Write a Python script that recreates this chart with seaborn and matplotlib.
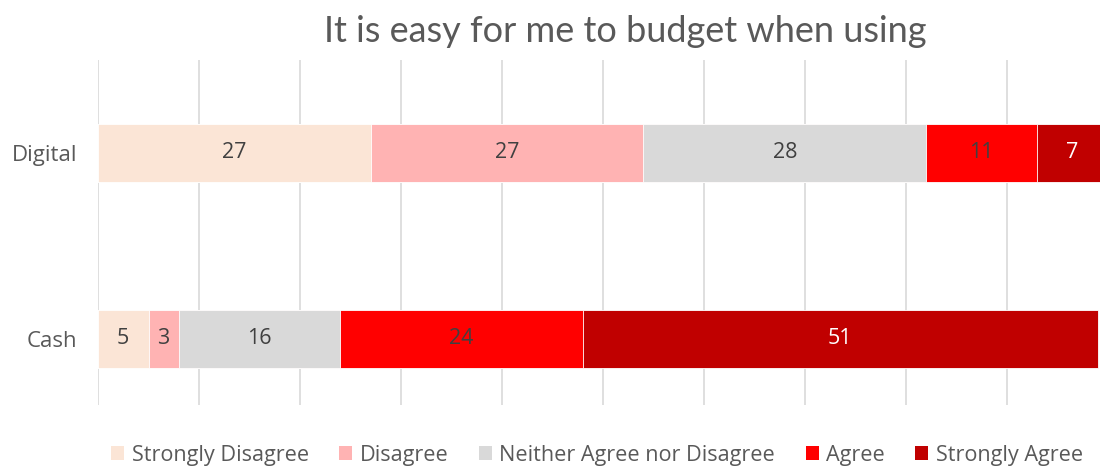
import matplotlib
matplotlib.use("Agg")
import matplotlib.pyplot as plt
import matplotlib.font_manager as fm
from matplotlib.patches import Patch
import numpy as np
import pandas as pd
import seaborn as sns

# Survey responses (percent of respondents)
categories = ["Digital", "Cash"]
responses = ["Strongly Disagree", "Disagree", "Neither Agree nor Disagree", "Agree", "Strongly Agree"]
strongly_disagree = [27, 5]
disagree = [27, 3]
neither = [28, 16]
agree = [11, 24]
strongly_agree = [7, 51]

colors = ["#FBE5D6", "#FFB3B3", "#D9D9D9", "#FF0000", "#C00000"]
label_colors = ["#404040", "#404040", "#404040", "#404040", "#FFFFFF"]

sns.set_theme(style="white")
names = {f.name for f in fm.fontManager.ttflist}
base = "Open Sans" if "Open Sans" in names else "DejaVu Sans"
title_font = "Lato" if "Lato" in names else base
plt.rcParams["font.family"] = [base, "DejaVu Sans"]

values = np.array([strongly_disagree, disagree, neither, agree, strongly_agree], dtype=float)
cum = values.cumsum(axis=0)
starts = cum - values

fig = plt.figure(figsize=(11, 4.66), dpi=100)
ax = fig.add_axes([98 / 1100, 1 - 405 / 466, 1010 / 1100, 345 / 466])

# Stacked bars: draw cumulative totals from the outermost segment inward
for i in range(len(responses) - 1, -1, -1):
    df = pd.DataFrame({"category": categories, "value": cum[i]})
    sns.barplot(data=df, x="value", y="category", orient="h", color=colors[i],
                width=0.312, saturation=1, edgecolor="#FFFFFF", linewidth=0.6,
                ax=ax, zorder=2)

for i in range(len(responses)):
    for j in range(len(categories)):
        ax.text(starts[i, j] + values[i, j] / 2, j, f"{values[i, j]:g}",
                ha="center", va="center", fontsize=15.5, color=label_colors[i], zorder=3)

ax.set_xlim(0, 100)
ax.set_ylim(1.355, -0.5)
ax.set_xticks(np.arange(0, 101, 10))
ax.xaxis.grid(True, color="#D9D9D9", linewidth=1.2)
ax.set_axisbelow(True)
ax.tick_params(axis="x", length=0, labelbottom=False)
ax.tick_params(axis="y", length=0, pad=15, labelsize=16, labelcolor="#595959")
ax.set_xlabel("")
ax.set_ylabel("")
for s in ax.spines.values():
    s.set_visible(False)

fig.text(625 / 1100, 1 - 31 / 466, "It is easy for me to budget when using",
         ha="center", va="center", fontsize=26, color="#595959",
         family=[title_font, "DejaVu Sans"])

handles = [Patch(facecolor=c, edgecolor="none") for c in colors]
fig.legend(handles, responses, loc="center", bbox_to_anchor=(597 / 1100, 1 - 455 / 466),
           ncol=5, frameon=False, fontsize=15.6, handlelength=0.6, handleheight=0.6,
           handletextpad=0.35, columnspacing=1.4, labelcolor="#595959", borderpad=0)

fig.savefig("out.png", dpi=100)
